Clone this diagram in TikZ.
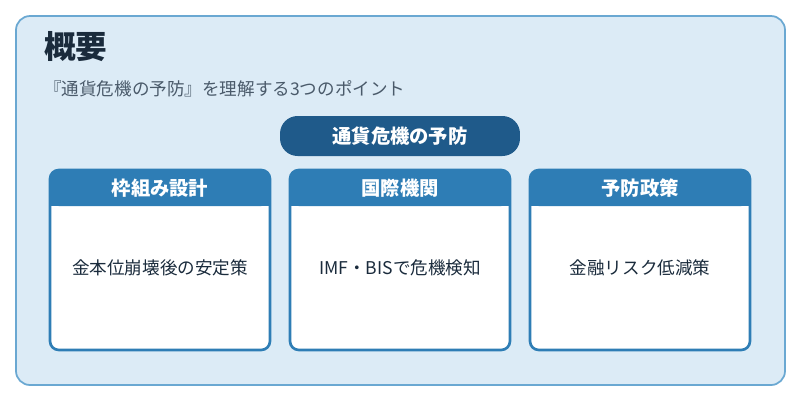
\documentclass[tikz,border=0pt]{standalone}
\usepackage{fontspec}
\setmainfont{Noto Sans CJK JP}
\usetikzlibrary{positioning}
\definecolor{bgblue}{HTML}{DCEBF6}
\definecolor{edgeblue}{HTML}{6AA8D2}
\definecolor{darkblue}{HTML}{1F5A8A}
\definecolor{midblue}{HTML}{2E7DB5}
\definecolor{titlecol}{HTML}{1A2B3C}
\definecolor{subcol}{HTML}{4A5A6A}
\tikzset{
  px/.style={x=0.02cm, y=-0.02cm},
  card/.style={draw=midblue, line width=1.5pt, fill=white, rounded corners=5pt, minimum width=4.4cm, minimum height=3.6cm},
  cardhead/.style={fill=midblue, rounded corners=5pt, minimum width=4.4cm, minimum height=0.72cm, text=white, font=\bfseries\fontsize{11}{13}\selectfont},
  cardtext/.style={font=\fontsize{10}{12}\selectfont, text=titlecol}
}
\begin{document}
\begin{tikzpicture}[px]
  \useasboundingbox (0,0) rectangle (800,400);
  \draw[draw=edgeblue, fill=bgblue, line width=1pt, rounded corners=8pt] (16,16) rectangle (785,385);
  \node[anchor=west, font=\bfseries\fontsize{18}{20}\selectfont, text=titlecol] (title) at (38,47) {概要};
  \node[anchor=west, font=\fontsize{10}{12}\selectfont, text=subcol] (sub) at (38,89) {『通貨危機の予防』を理解する3つのポイント};
  \node[fill=darkblue, rounded corners=10pt, minimum width=4.8cm, minimum height=0.8cm, text=white, font=\bfseries\fontsize{11}{13}\selectfont] (main) at (400,136) {通貨危機の予防};

  \node[card] (frame) at (160,260) {};
  \node[card] (intl) at (400,260) {};
  \node[card] (policy) at (640,260) {};
  \fill[midblue, rounded corners=5pt] (50,170) rectangle (270,206);
  \fill[midblue, rounded corners=5pt] (290,170) rectangle (510,206);
  \fill[midblue, rounded corners=5pt] (530,170) rectangle (750,206);
  \fill[midblue] (50,195) rectangle (270,206);
  \fill[midblue] (290,195) rectangle (510,206);
  \fill[midblue] (530,195) rectangle (750,206);
  \node[text=white, font=\bfseries\fontsize{11}{13}\selectfont] (frameh) at (160,188) {枠組み設計};
  \node[text=white, font=\bfseries\fontsize{11}{13}\selectfont] (intlh) at (400,188) {国際機関};
  \node[text=white, font=\bfseries\fontsize{11}{13}\selectfont] (policyh) at (640,188) {予防政策};

  \node[cardtext] (framet) at (160,268) {金本位崩壊後の安定策};
  \node[cardtext] (intlt) at (400,268) {IMF・BISで危機検知};
  \node[cardtext] (policyt) at (640,268) {金融リスク低減策};
\end{tikzpicture}
\end{document}
